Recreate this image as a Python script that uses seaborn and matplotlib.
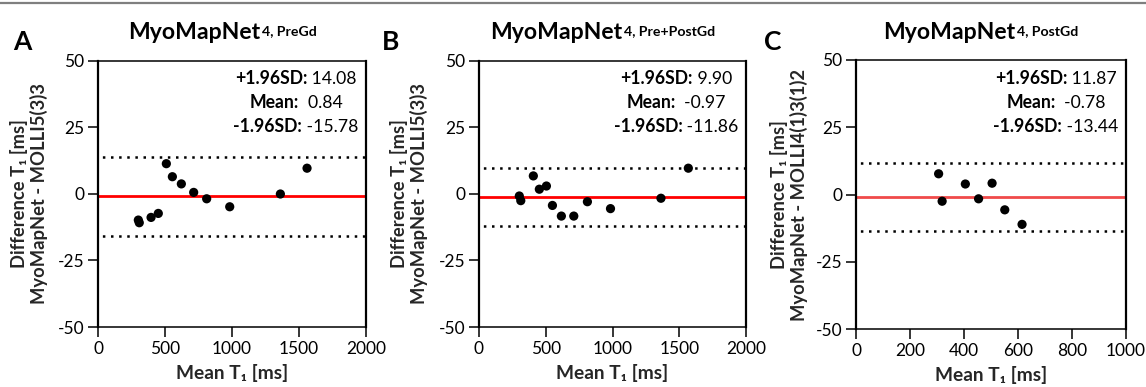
import matplotlib
matplotlib.use("Agg")
import matplotlib.pyplot as plt
from matplotlib.lines import Line2D
import numpy as np
import pandas as pd
import seaborn as sns

# ---------------- data ----------------
a_mean = [301, 308, 396, 450, 510, 555, 622, 714, 811, 983, 1361, 1560]
a_diff = [-9.8, -10.8, -8.8, -7.3, 11.4, 6.5, 3.8, 0.6, -1.8, -4.8, 0.0, 9.7]
b_mean = [302, 313, 407, 452, 505, 550, 617, 710, 812, 985, 1363, 1568]
b_diff = [-0.75, -2.5, 6.8, 1.8, 3.0, -4.3, -8.3, -8.3, -2.9, -5.5, -1.6, 9.7]
c_mean = [306, 319, 405, 454, 504, 551, 615]
c_diff = [7.7, -2.5, 3.9, -1.6, 4.2, -5.7, -11.1]

upper = [14.08, 9.90, 11.87]
bias_line = [-0.85, -0.97, -0.78]
lower = [-15.78, -11.86, -13.44]
upper_txt = ["14.08", "9.90", "11.87"]
bias_txt = ["0.84", "-0.97", "-0.78"]
lower_txt = ["-15.78", "-11.86", "-13.44"]
stat_names = ["+1.96SD:", "Mean:", "-1.96SD:"]

panel_letters = ["A", "B", "C"]
title_main = "MyoMapNet"
title_sup = ["4, PreGd", "4, Pre+PostGd", "4, PostGd"]
ylabel1 = "Difference T\u2081 [ms]"
ylabel2 = ["MyoMapNet - MOLLI5(3)3", "MyoMapNet - MOLLI5(3)3", "MyoMapNet - MOLLI4(1)3(1)2"]
xlabel = "Mean T\u2081 [ms]"
xmax = [2000, 2000, 1000]
xticks = [[0, 500, 1000, 1500, 2000], [0, 500, 1000, 1500, 2000], [0, 200, 400, 600, 800, 1000]]
yticks = [-50, -25, 0, 25, 50]

# ---------------- style ----------------
sns.set_theme(style="ticks")
FONT = "Lato"
plt.rcParams["font.family"] = [FONT, "DejaVu Sans"]
plt.rcParams["axes.unicode_minus"] = False

W, H = 1146, 387
fig = plt.figure(figsize=(W / 100, H / 100), dpi=100)

# axes boxes in pixels: left, right, top, bottom
boxes = [(98, 366, 61, 327), (479, 746, 61, 327), (856, 1126, 60, 329)]
title_left_px = [128, 490, 883]
letter_left_px = [13, 382, 764]
label_right_px = [48, 428, 808]
stat_center_px = [296, 676, 1056]
stat_y_px = [79, 103, 127]
red_colors = ["#ff0000", "#ff0000", "#f04a4a"]

means = [a_mean, b_mean, c_mean]
diffs = [a_diff, b_diff, c_diff]
stat_vals = [upper_txt, bias_txt, lower_txt]

STAT_FS = 12.7
stat_pairs = []

for i in range(3):
    l, r, t, b = boxes[i]
    ax = fig.add_axes([l / W, 1 - b / H, (r - l) / W, (b - t) / H])
    df = pd.DataFrame({"mean": means[i], "diff": diffs[i]})
    ax.axhline(bias_line[i], color=red_colors[i], lw=2.0, zorder=2)
    for v in (upper[i], lower[i]):
        ax.axhline(v, color="black", lw=1.8, linestyle=(1.5, (1, 2.25)), zorder=2)
    sns.scatterplot(data=df, x="mean", y="diff", ax=ax, color="black", s=44,
                    edgecolor="none", zorder=3, legend=False)
    ax.set_xlim(0, xmax[i])
    ax.set_ylim(-50, 50)
    ax.set_xticks(xticks[i])
    ax.set_yticks(yticks)
    ax.tick_params(axis="both", direction="out", length=7, width=1.1,
                   labelsize=12.5, pad=3, colors="black", top=False, right=False)
    for s in ("left", "right"):
        ax.spines[s].set_linewidth(1.6)
    for s in ("top", "bottom"):
        ax.spines[s].set_linewidth(1.1)
    for s in ax.spines.values():
        s.set_visible(True)
        s.set_color("black")
    ax.set_xlabel(xlabel, fontsize=13.8, fontweight="bold", labelpad=5)
    ax.set_ylabel(ylabel1 + "\n" + ylabel2[i], fontsize=13.2, fontweight="bold",
                  linespacing=1.12)
    ax.yaxis.set_label_coords((label_right_px[i] - l) / (r - l), 0.5)

    # statistics annotation: bold name + regular value, each line centered
    for k in range(3):
        yfig = 1 - stat_y_px[k] / H
        tb = fig.text(stat_center_px[i] / W, yfig, stat_names[k], fontsize=STAT_FS,
                      fontweight="bold", ha="left", va="center", color="black")
        gap = "  " if k == 1 else " "
        tv = fig.text(stat_center_px[i] / W, yfig, gap + stat_vals[k][i],
                      fontsize=STAT_FS, ha="left", va="center", color="black")
        stat_pairs.append((tb, tv, stat_center_px[i], yfig))

    # title with superscript
    tt = fig.text(title_left_px[i] / W, 1 - 39 / H, title_main, fontsize=16.6,
                  fontweight="bold", ha="left", va="baseline", color="black")
    ax.annotate(title_sup[i], xy=(1, 1), xycoords=tt, xytext=(1.0, -2.0),
                textcoords="offset points", ha="left", va="top",
                fontsize=10.2, fontweight="bold", color="black",
                annotation_clip=False)

    # panel letter
    fig.text(letter_left_px[i] / W, 1 - 50 / H, panel_letters[i], fontsize=19,
             fontweight="bold", ha="left", va="baseline", color="black")

fig.add_artist(Line2D([0, 1], [1 - 2.5 / H, 1 - 2.5 / H], transform=fig.transFigure,
                      color="#7f7f7f", lw=1.6))

# centre each statistics line
fig.canvas.draw()
renderer = fig.canvas.get_renderer()
for tb, tv, cpx, yfig in stat_pairs:
    wb = tb.get_window_extent(renderer).width
    wv = tv.get_window_extent(renderer).width
    x0 = cpx - (wb + wv) / 2
    tb.set_position((x0 / W, yfig))
    tv.set_position(((x0 + wb) / W, yfig))

fig.savefig("out.png", dpi=100)
